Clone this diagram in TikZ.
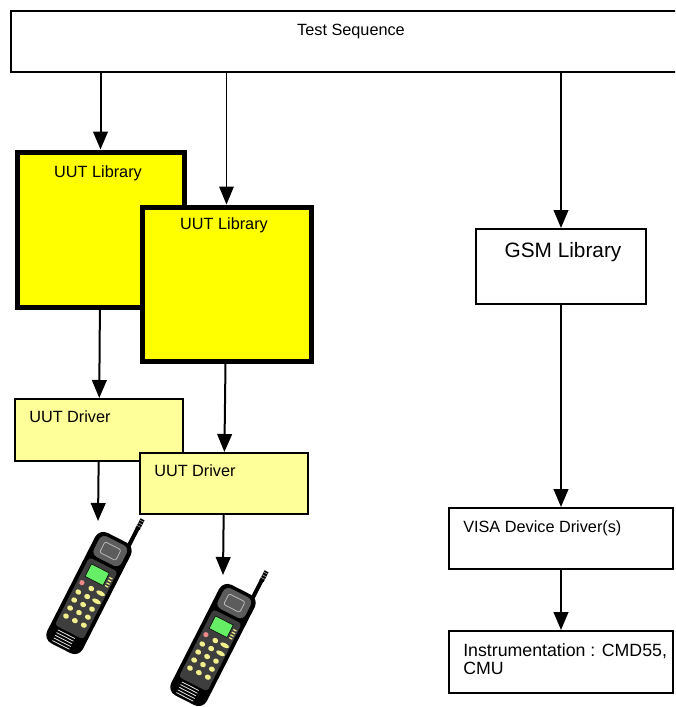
\documentclass[tikz,border=0pt]{standalone}
\usepackage{fontspec}
\setmainfont{Liberation Sans}
\usetikzlibrary{arrows.meta}
\definecolor{libyellow}{HTML}{FFFF00}
\definecolor{drvyellow}{HTML}{FFFF99}
\definecolor{keyyellow}{HTML}{F2EE8C}
\definecolor{lcdgreen}{HTML}{66EE66}
\definecolor{ledpink}{HTML}{EE8A8A}
\definecolor{facegrey}{HTML}{3E3E3E}
\definecolor{eargrey}{HTML}{5C5C5C}

\tikzset{
  phone/.pic={
    \begin{scope}[y=0.75pt]
      % body, face and earpiece
      \fill[black,rounded corners=7pt] (-20,-62) rectangle (20,62);
      \fill[facegrey,rounded corners=2.5pt] (-16,-44) rectangle (16,32);
      \filldraw[fill=eargrey,draw=black,line width=0.6pt,rounded corners=5pt]
        (-16,35) rectangle (16,59);
      \draw[gray!55,line width=0.6pt,rounded corners=1.5pt] (-9,41) rectangle (9,53);
      % display, led and keypad
      \filldraw[fill=lcdgreen,draw=black,line width=0.4pt] (-11,13) rectangle (9,27);
      \fill[ledpink] (-11,6) circle[radius=2.6];
      \foreach \v in {14,17,20,23}
        \draw[keyyellow,line width=0.9pt] (11,\v) -- (14.5,\v);
      \fill[keyyellow] (0,5) ellipse[x radius=3,y radius=2.6];
      \foreach \u in {-10,0}
        \foreach \v in {-4,-13,-22,-31}
          \fill[keyyellow] (\u,\v) ellipse[x radius=3,y radius=2.6];
      \foreach \v in {5,-4}
        \fill[keyyellow] (10.5,\v) ellipse[x radius=4.8,y radius=2.2];
      \foreach \v in {-13,-22,-31}
        \fill[keyyellow] (10,\v) ellipse[x radius=3,y radius=2.6];
      % speaker slots
      \foreach \v in {-47,-50,-53,-56,-59}
        \draw[gray!20,line width=0.6pt] (-11,\v) -- (8,\v);
      % antenna
      \draw[black,line width=3pt] (14,60) -- (14,80);
      \fill[black] (12,79) rectangle (16.5,90);
      \foreach \v in {82,85,88}
        \draw[gray!60,line width=0.4pt] (12,\v) -- (16.5,\v);
    \end{scope}
  }
}

\begin{document}
\begin{tikzpicture}
[x=0.75pt,y=-0.75pt,
  boxdecorate/.style={shape=rectangle,draw,line width=1.5pt,inner sep=0pt,
    anchor=north west},
  boxsize/.style 2 args={minimum width=#1*0.75pt,minimum height=#2*0.75pt},
  libdecorate/.style={boxdecorate,fill=libyellow,line width=3.75pt},
  drvdecorate/.style={boxdecorate,fill=drvyellow},
  textdecorate/.style={inner sep=0pt,font=\fontsize{12.2}{14}\selectfont},
  arrowdecorate/.style={-{Triangle[length=13.5pt,width=11pt]},line width=1.5pt},
  thinarrowdecorate/.style={arrowdecorate,line width=0.75pt}]
\useasboundingbox (0,0) rectangle (675,707);
\clip (0,0) rectangle (675,707);
%% boxes
% the sequence box runs off the right edge, so it is left open there
\node (seq) at (11,11) [boxdecorate,draw=none,outer sep=0pt,boxsize={700}{61}] {};
\draw[line width=1.1pt] (seq.north east) -- (seq.north west)
  -- (seq.south west) -- (seq.south east);
\node (lib1) at (14.5,149.5) [libdecorate,boxsize={167}{155}] {};
\node (lib2) at (139.5,204.5) [libdecorate,boxsize={169}{154}] {};
\node (drv1) at (14,398) [drvdecorate,boxsize={168}{62}] {};
\node (drv2) at (139,452) [drvdecorate,boxsize={168}{61}] {};
\node (gsm) at (475,228) [boxdecorate,boxsize={170}{75}] {};
\node (visa) at (448,507) [boxdecorate,boxsize={224}{61}] {};
\node (instr) at (448,630) [boxdecorate,boxsize={224}{62}] {};
%% box texts
\foreach \nodename/\x/\y/\txt in {seq/351/32/Test Sequence,
  lib1/98/174/UUT Library, lib2/224/226/UUT Library} {
  \node (\nodename-text) at (\x,\y) [textdecorate,anchor=mid] {\txt};
}
\foreach \nodename/\x/\y/\txt in {drv1/29/419/UUT Driver,
  drv2/154/473/UUT Driver, visa/463/529/VISA Device Driver(s)} {
  \node (\nodename-text) at (\x,\y) [textdecorate,anchor=mid west] {\txt};
}
\node (gsm-text) at (563,254) [textdecorate,anchor=mid,
  font=\fontsize{15.6}{18}\selectfont] {GSM Library};
\node (instr-text) at (463,643.5) [textdecorate,anchor=north west,align=left,
  font=\fontsize{13.3}{13.5}\selectfont] {Instrumentation : CMD55,\\CMU};
%% phones
\pic (phone1) [rotate=-27] at (89,593) {phone};
\pic (phone2) [rotate=-27] at (213,645) {phone};
\coordinate (phone1top) at (98,521);
\coordinate (phone2top) at (223,575);
%% arrows
\path
\foreach \endnode in {lib1, gsm} {
  (seq.south -| \endnode) edge[arrowdecorate] (\endnode)
}
(seq.south -| lib2) edge[thinarrowdecorate] (lib2);
\path
\foreach \startnode/\endnode in {lib1/drv1, lib2/drv2, gsm/visa, visa/instr,
  drv1/phone1top, drv2/phone2top} {
  (\startnode) edge[arrowdecorate] (\endnode)
};
\end{tikzpicture}
\end{document}
